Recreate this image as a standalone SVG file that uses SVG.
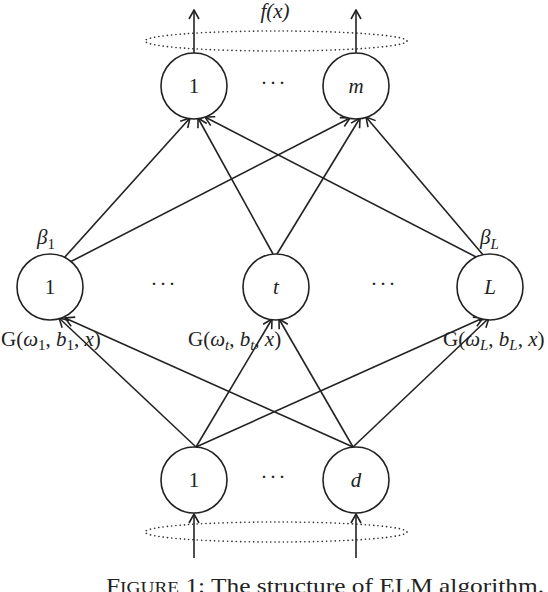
<svg xmlns="http://www.w3.org/2000/svg" width="548" height="592" viewBox="0 0 548 592">
<defs>
<style>
.n{fill:#fff;stroke:#222;stroke-width:1.6}
.e{stroke:#222;stroke-width:1.6;fill:none}
.dot{fill:none;stroke:#333;stroke-width:1.6;stroke-dasharray:0.1 4.2;stroke-linecap:round}
text{font-family:"Liberation Serif","DejaVu Serif",serif;fill:#222;font-size:21px}
.c{text-anchor:middle}
.i{font-style:italic}
.s{font-size:15px}
.d{letter-spacing:2px}
</style>
<marker id="ah" markerWidth="12" markerHeight="12" viewBox="-11 -6 12 12" refX="0" refY="0" orient="auto" markerUnits="userSpaceOnUse">
<path d="M-9,-5 L0,0 L-9,5" fill="none" stroke="#222" stroke-width="1.6"/>
</marker>
</defs>
<ellipse class="dot" cx="276" cy="41" rx="131" ry="10"/>
<ellipse class="dot" cx="276" cy="532" rx="131" ry="10"/>
<g id="connectors">
<line class="e" x1="194" y1="53" x2="194" y2="10" marker-end="url(#ah)"/>
<line class="e" x1="356" y1="53" x2="356" y2="10" marker-end="url(#ah)"/>
<line class="e" x1="194" y1="558" x2="194" y2="514" marker-end="url(#ah)"/>
<line class="e" x1="356" y1="558" x2="356" y2="514" marker-end="url(#ah)"/>
<line class="e" x1="64" y1="258" x2="190" y2="118" marker-end="url(#ah)"/>
<line class="e" x1="70" y1="262" x2="350" y2="118" marker-end="url(#ah)"/>
<line class="e" x1="273" y1="254" x2="198" y2="118" marker-end="url(#ah)"/>
<line class="e" x1="277" y1="254" x2="360" y2="118" marker-end="url(#ah)"/>
<line class="e" x1="480" y1="259" x2="205" y2="117" marker-end="url(#ah)"/>
<line class="e" x1="484" y1="256" x2="366" y2="117" marker-end="url(#ah)"/>
<line class="e" x1="196" y1="447" x2="59" y2="318" marker-end="url(#ah)"/>
<line class="e" x1="196" y1="447" x2="272" y2="319" marker-end="url(#ah)"/>
<line class="e" x1="196" y1="447" x2="483" y2="318" marker-end="url(#ah)"/>
<line class="e" x1="353" y1="447" x2="65" y2="318" marker-end="url(#ah)"/>
<line class="e" x1="353" y1="447" x2="279" y2="319" marker-end="url(#ah)"/>
<line class="e" x1="353" y1="447" x2="489" y2="318" marker-end="url(#ah)"/>
</g>
<g id="out1"><circle class="n" cx="194" cy="86" r="33"/><text class="c" x="194" y="93">1</text></g>
<g id="outm"><circle class="n" cx="356" cy="86" r="33"/><text class="c i" x="356" y="93">m</text></g>
<g id="hid1"><circle class="n" cx="50" cy="287" r="33"/><text class="c" x="50" y="294">1</text></g>
<g id="hidt"><circle class="n" cx="276" cy="287" r="33"/><text class="c i" x="276" y="294">t</text></g>
<g id="hidL"><circle class="n" cx="490" cy="287" r="33"/><text class="c i" x="490" y="294">L</text></g>
<g id="in1"><circle class="n" cx="194" cy="480" r="33"/><text class="c" x="194" y="487">1</text></g>
<g id="ind"><circle class="n" cx="356" cy="480" r="33"/><text class="c i" x="356" y="487">d</text></g>
<g id="labels">
<text class="c i" x="275" y="18">f(x)</text>
<text class="c d" x="274" y="90">···</text>
<text class="c d" x="164" y="291">···</text>
<text class="c d" x="384" y="291">···</text>
<text class="c d" x="274" y="484">···</text>
<text x="37" y="244"><tspan class="i">β</tspan><tspan class="s" dy="5">1</tspan></text>
<text x="480" y="244"><tspan class="i">β</tspan><tspan class="s i" dy="5">L</tspan></text>
<text x="1" y="346">G(<tspan class="i">ω</tspan><tspan class="s" dy="4">1</tspan><tspan dy="-4">, </tspan><tspan class="i">b</tspan><tspan class="s" dy="4">1</tspan><tspan dy="-4">, </tspan><tspan class="i">x</tspan>)</text>
<text x="188" y="346">G(<tspan class="i">ω</tspan><tspan class="s i" dy="4">t</tspan><tspan dy="-4">, </tspan><tspan class="i">b</tspan><tspan class="s i" dy="4">t</tspan><tspan dy="-4">, </tspan><tspan class="i">x</tspan>)</text>
<text x="443" y="346">G(<tspan class="i">ω</tspan><tspan class="s i" dy="4">L</tspan><tspan dy="-4">, </tspan><tspan class="i">b</tspan><tspan class="s i" dy="4">L</tspan><tspan dy="-4">, </tspan><tspan class="i">x</tspan>)</text>
<text x="106" y="593" style="font-size:21px" textLength="438" lengthAdjust="spacingAndGlyphs">F<tspan style="font-size:16px">IGURE</tspan> 1: The structure of ELM algorithm.</text>
</g>
</svg>
